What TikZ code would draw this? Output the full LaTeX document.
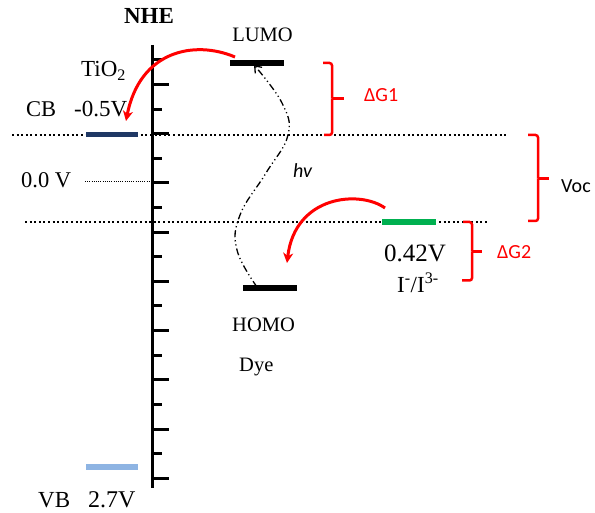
\documentclass[tikz,border=0pt]{standalone}
\usepackage{fontspec}
\setmainfont{Liberation Serif}
\newfontfamily\calib{Carlito}
\usetikzlibrary{arrows.meta}
\definecolor{cbnavy}{HTML}{1F3864}
\definecolor{vblight}{HTML}{8EB4E3}
\definecolor{redoxgreen}{HTML}{00B050}
\begin{document}
\begin{tikzpicture}[x=1pt,y=-1pt,
  lbl/.style={inner sep=0pt,anchor=base west},
  fs/.style={font=\fontsize{#1}{#1}\selectfont},
  sans/.style={font=\fontsize{#1}{#1}\selectfont\calib},
  level/.style={line width=6pt},
  guide/.style={line width=2pt,dash pattern=on 2pt off 2.6pt},
  brace/.style={red,line width=2.5pt,rounded corners=2.5pt},
  transfer/.style={red,line width=3pt,-{Stealth[length=10pt,width=10pt,inset=3pt]}},
  excite/.style={line width=1.3pt,dash pattern=on 7pt off 3pt on 1.2pt off 3pt on 1.2pt off 3pt,
     -{Straight Barb[length=6pt,width=9pt,line width=1.3pt]}}]
\useasboundingbox (0,0) rectangle (595,513);
% guides
\draw[guide] (12,135) -- (508,135);
\draw[guide] (25,222) -- (488,222);
\draw[line width=1pt,dash pattern=on 1pt off 1.2pt] (85,182) -- (150,182);
% axis
\draw[line width=3.5pt] (152.5,45) -- (152.5,488);
\foreach \i in {0,...,17}{
  \pgfmathsetmacro{\yy}{60+\i*24.6}
  \ifodd\i
    \draw[line width=3pt] (152.5,\yy) -- (169,\yy);
  \else
    \draw[line width=3pt] (152.5,\yy) -- (162,\yy);
  \fi
}
% levels
\coordinate (cbL) at (86,135); \coordinate (cbR) at (138,135);
\draw[level,cbnavy,line width=5pt] (cbL) -- (cbR);
\coordinate (vbL) at (86,466.5); \coordinate (vbR) at (138,466.5);
\draw[level,vblight] (vbL) -- (vbR);
\coordinate (lumoL) at (230,63); \coordinate (lumoR) at (284,63);
\draw[level] (lumoL) -- (lumoR);
\coordinate (homoL) at (243,288); \coordinate (homoR) at (297,288);
\draw[level] (homoL) -- (homoR);
\coordinate (redL) at (382,222); \coordinate (redR) at (436,222);
\draw[level,redoxgreen] (redL) -- (redR);
% texts
\node[lbl,anchor=base,font=\fontsize{23}{23}\selectfont\bfseries] (nhe) at (149,24) {NHE};
\node[lbl,anchor=base,fs=20.5] (lumo) at (262.5,41.5) {LUMO};
\node[lbl,fs=23] (tio) at (81,77) {TiO\textsubscript{2}};
\node[lbl,fs=22.5] (cb) at (26,117) {CB};
\node[lbl,fs=23] (cbv) at (74,117) {-0.5V};
\node[lbl,fs=22.5] (zero) at (21,188) {0.0 V};
\node[lbl,font=\fontsize{20}{20}\selectfont\calib\itshape] (hv) at (293,178) {hv};
\node[lbl,sans=20,red] (dg1) at (364,102) {ΔG1};
\node[lbl,sans=20] (voc) at (561,193) {Voc};
\node[lbl,fs=25] (redv) at (384,262) {0.42V};
\node[lbl,fs=23] (redox) at (397,293) {I\textsuperscript{-}/I\textsuperscript{3-}};
\node[lbl,sans=20,red] (dg2) at (497,259) {ΔG2};
\node[lbl,fs=20.5] (homo) at (232,332) {HOMO};
\node[lbl,fs=20.5] (dye) at (239,372) {Dye};
\node[lbl,fs=23] (vb) at (38,507) {VB};
\node[lbl,fs=24] (vbv) at (88,507) {2.7V};
% braces
\draw[brace] (323,63) -| (332,98.5); \draw[brace] (332,98.5) -- (344,98.5);
\draw[brace] (332,98.5) |- (324,135);
\draw[brace] (528,135) -| (538,178.5); \draw[brace] (538,178.5) -- (549,178.5);
\draw[brace] (538,178.5) |- (528,221);
\draw[brace] (463,222) -| (472,251.5); \draw[brace] (472,251.5) -- (482,251.5);
\draw[brace] (472,251.5) |- (462,280.5);
% electron transfer arrows
\coordinate (injS) at (235,57); \coordinate (injE) at (126,121);
\draw[transfer] (injS) .. controls (195,40) and (140,50) .. (injE);
\coordinate (regS) at (385,208); \coordinate (regE) at (287,263);
\draw[transfer] (regS) .. controls (360,190) and (295,195) .. (regE);
% excitation
\coordinate (exS) at (257,287); \coordinate (exE) at (254,65);
\draw[excite] plot[smooth,tension=0.7] coordinates {(exS) (237,250) (240,215) (266,173) (288,135) (282,103) (exE)};
\end{tikzpicture}
\end{document}
